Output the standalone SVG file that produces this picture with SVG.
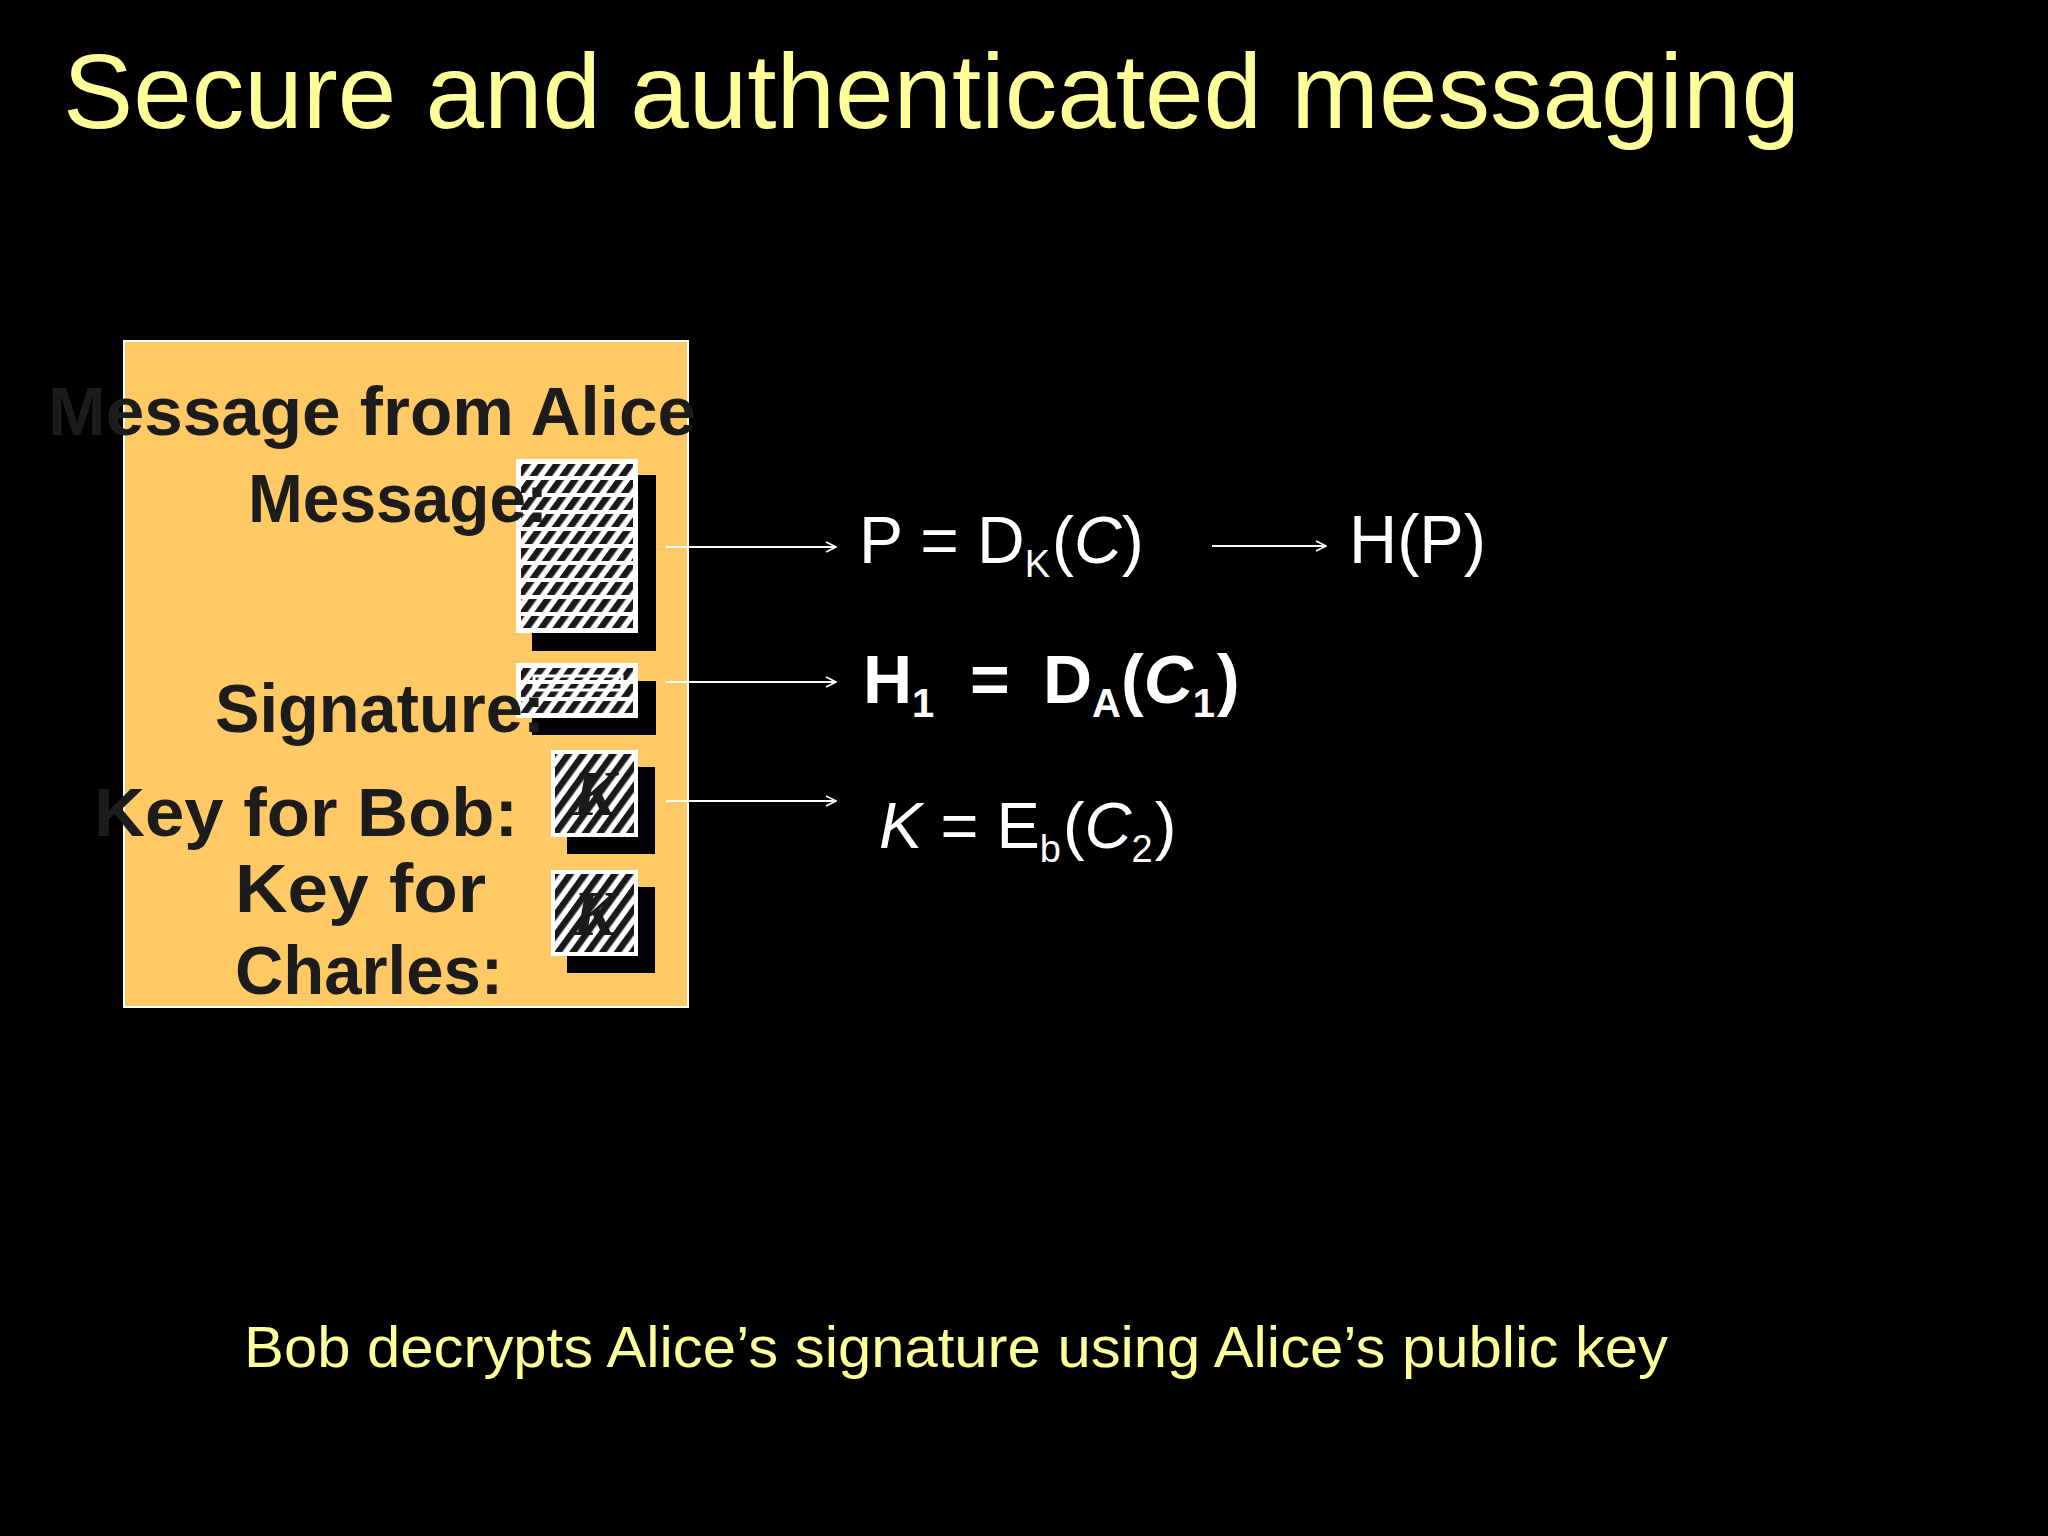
<svg xmlns="http://www.w3.org/2000/svg" width="2048" height="1536" viewBox="0 0 2048 1536">
<defs>
<style>
.title{font-family:"Liberation Sans",Arial,sans-serif;fill:#ffff99;}
.lbl{font-family:"Liberation Sans",Arial,sans-serif;font-weight:bold;fill:#1c1c1c;}
.fx{font-family:"Liberation Sans",Arial,sans-serif;fill:#ffffff;}
.conn{stroke:#ffffff;stroke-width:2;fill:none;}
.shadow{fill:#000000;}
.card{fill:#ffffff;}
.kk{font-family:"Liberation Serif",serif;font-style:italic;font-weight:bold;fill:#1a1a1a;}
</style>
<pattern id="stripes" patternUnits="userSpaceOnUse" width="12" height="12" patternTransform="rotate(36)">
<rect x="0" y="0" width="6.5" height="12" fill="#1a1a1a"/>
</pattern>
<pattern id="bands" patternUnits="userSpaceOnUse" width="20" height="17">
<rect x="0" y="0" width="20" height="4" fill="#ffffff"/>
</pattern>
<marker id="arr" viewBox="0 0 12 12" refX="11" refY="6" markerWidth="12" markerHeight="12" markerUnits="userSpaceOnUse" orient="auto">
<path d="M1,1 L11,6 L1,11" fill="none" stroke="#ffffff" stroke-width="1.6"/>
</marker>
</defs>
<rect width="2048" height="1536" fill="#000000"/>

<text id="title" class="title" x="63" y="128" font-size="106" textLength="1737" lengthAdjust="spacingAndGlyphs">Secure and authenticated messaging</text>

<g id="message-box">
<rect x="124" y="341" width="564" height="666" fill="#ffc966" stroke="#ffffff" stroke-width="2"/>
</g>

<g id="cipher-message">
<rect class="shadow" x="532" y="475" width="124" height="176"/>
<rect class="card" x="516" y="459" width="122" height="174"/>
<rect x="521" y="464" width="112" height="164" fill="url(#stripes)"/>
<rect x="521" y="464" width="112" height="164" fill="url(#bands)"/>
</g>
<g id="cipher-signature">
<rect class="shadow" x="532" y="681" width="124" height="54"/>
<rect class="card" x="516" y="663" width="122" height="55"/>
<rect x="521" y="668" width="112" height="45" fill="url(#stripes)"/>
<rect x="521" y="668" width="112" height="45" fill="url(#bands)"/>
<rect x="534" y="676" width="88" height="14" fill="none" stroke="#ffffff" stroke-width="3"/>
</g>
<g id="cipher-key-bob">
<rect class="shadow" x="567" y="767" width="88" height="87"/>
<rect class="card" x="551" y="750" width="87" height="87"/>
<rect x="555" y="754" width="79" height="79" fill="url(#stripes)"/>
<text class="kk" x="594" y="815" font-size="64" text-anchor="middle">K</text>
</g>
<g id="cipher-key-charles">
<rect class="shadow" x="567" y="887" width="88" height="86"/>
<rect class="card" x="551" y="870" width="87" height="86"/>
<rect x="555" y="874" width="79" height="78" fill="url(#stripes)"/>
<text class="kk" x="594" y="935" font-size="64" text-anchor="middle">K</text>
</g>

<g id="label-message-from-alice">
<text class="lbl" x="48" y="435" font-size="68" textLength="648" lengthAdjust="spacingAndGlyphs">Message from Alice</text>
</g>
<g id="label-message">
<text class="lbl" x="248" y="522" font-size="68" textLength="300" lengthAdjust="spacingAndGlyphs">Message:</text>
</g>
<g id="label-signature">
<text class="lbl" x="215" y="732" font-size="68" textLength="330" lengthAdjust="spacingAndGlyphs">Signature:</text>
</g>
<g id="label-key-bob">
<text class="lbl" x="94" y="836" font-size="68" textLength="424" lengthAdjust="spacingAndGlyphs">Key for Bob:</text>
</g>
<g id="label-key-charles">
<text class="lbl" x="235" y="912" font-size="68" textLength="251" lengthAdjust="spacingAndGlyphs">Key for</text>
<text class="lbl" x="235" y="994" font-size="68" textLength="268" lengthAdjust="spacingAndGlyphs">Charles:</text>
</g>

<g id="connectors">
<line class="conn" x1="666" y1="547" x2="836" y2="547" marker-end="url(#arr)"/>
<line class="conn" x1="666" y1="682" x2="836" y2="682" marker-end="url(#arr)"/>
<line class="conn" x1="666" y1="801" x2="836" y2="801" marker-end="url(#arr)"/>
<line class="conn" x1="1212" y1="546" x2="1326" y2="546" marker-end="url(#arr)"/>
</g>

<g id="formula-p">
<text class="fx" x="859" y="563" font-size="66">P = D<tspan font-size="38" dy="14">K</tspan><tspan dy="-14" dx="2">(</tspan><tspan font-style="italic">C</tspan>)</text>
</g>
<g id="formula-hp">
<text class="fx" x="1349" y="563" font-size="68" textLength="137" lengthAdjust="spacingAndGlyphs">H(P)</text>
</g>
<g id="formula-h1">
<text class="fx" y="703" font-size="68" font-weight="bold"><tspan x="863">H</tspan><tspan font-size="40" dy="14">1</tspan><tspan x="970" dy="-14">=</tspan><tspan x="1043">D</tspan><tspan font-size="40" dy="14">A</tspan><tspan dy="-14">(</tspan><tspan font-style="italic">C</tspan><tspan font-size="40" dy="14">1</tspan><tspan dy="-14" dx="2">)</tspan></text>
</g>
<g id="formula-k">
<text class="fx" x="879" y="848" font-size="65"><tspan font-style="italic">K</tspan> = E<tspan font-size="38" dy="14">b</tspan><tspan dy="-14" dx="2">(</tspan><tspan font-style="italic">C</tspan><tspan font-size="38" dy="14">2</tspan><tspan dy="-14" dx="2">)</tspan></text>
</g>

<text id="caption" class="title" x="244" y="1367" font-size="58" textLength="1424" lengthAdjust="spacingAndGlyphs">Bob decrypts Alice’s signature using Alice’s public key</text>
</svg>
